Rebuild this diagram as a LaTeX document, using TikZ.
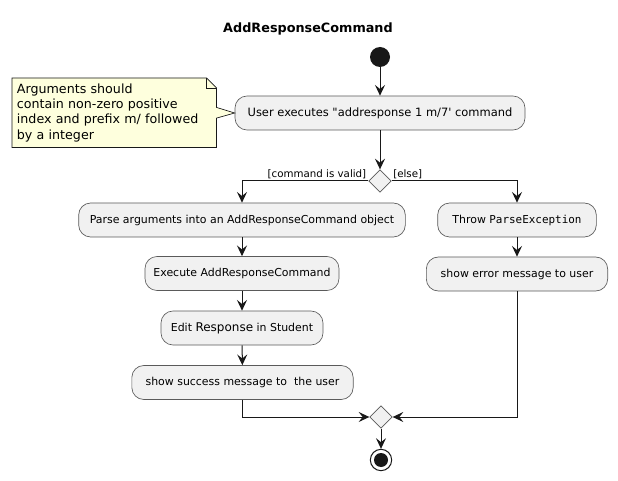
\documentclass[tikz,border=0pt]{standalone}
\usepackage{fontspec}
\setmainfont{DejaVu Sans}
\newfontfamily\monof{DejaVu Sans Mono}
\usetikzlibrary{arrows.meta,shapes.geometric}
\definecolor{actfill}{HTML}{F1F1F1}
\definecolor{notefill}{HTML}{FEFFDD}
\definecolor{lineclr}{HTML}{181818}
\definecolor{borderclr}{HTML}{5A5A5A}
\begin{document}
\begin{tikzpicture}[x=0.75pt,y=-0.75pt,
  act/.style={draw=borderclr, fill=actfill, rounded corners=9pt, line width=0.5pt,
    minimum height=25.5pt, inner xsep=0pt, font=\fontsize{8.2}{10}\selectfont},
  decision/.style={diamond, draw=borderclr, fill=actfill, line width=0.5pt,
    minimum width=17pt, minimum height=17pt, inner sep=0pt},
  startnode/.style={circle, fill=lineclr, minimum size=15pt, inner sep=0pt},
  endnode/.style={circle, draw=lineclr, fill=white, line width=0.75pt, minimum size=16pt, inner sep=0pt},
  enddot/.style={circle, fill=lineclr, minimum size=10.5pt, inner sep=0pt},
  notebox/.style={fill=none, align=left, inner xsep=3.5pt, minimum width=153pt,
    minimum height=51.75pt, text width=146pt, font=\fontsize{9.5}{11.6}\selectfont},
  noteline/.style={draw=lineclr, fill=notefill, line width=0.5pt, line join=miter},
  flow/.style={draw=lineclr, line width=0.75pt, -{Stealth[length=8pt,width=7.5pt,inset=3pt]}},
  guard/.style={font=\fontsize{7.7}{9}\selectfont, inner sep=0pt},
  titlestyle/.style={font=\bfseries\fontsize{9.6}{11}\selectfont, inner sep=0pt}
]
\useasboundingbox (0,0) rectangle (618,481);
\fill[white] (0,0) rectangle (618,481);

\node[titlestyle] (title) at (308,29) {AddResponseCommand};

\node[startnode] (start) at (380,57) {};
\node[act, minimum width=217.5pt, font=\fontsize{8.6}{10}\selectfont] (a1) at (380,113)
  {User executes \textquotedbl addresponse 1 m/7\textquotesingle{} command};

% note outline (drawn from a hidden frame node)
\node[notebox, anchor=north west] (note) at (12,78) {\phantom{x}};
\path[noteline] (note.north west) -- ([xshift=-7.5pt]note.north east)
  -- ([yshift=-7.5pt]note.north east) -- ([yshift=4pt]note.east)
  -- (a1.west) -- ([yshift=-4pt]note.east) -- (note.south east)
  -- (note.south west) -- cycle;
\draw[draw=lineclr, line width=0.5pt] ([xshift=-7.5pt]note.north east)
  -- ([xshift=-7.5pt,yshift=-7.5pt]note.north east) -- ([yshift=-7.5pt]note.north east);
\node[notebox, anchor=north west] (notetxt) at (12,78)
  {Arguments should\\contain non-zero positive\\index and prefix m/ followed\\by a integer};

\node[decision] (d1) at (380,181) {};
\node[guard, anchor=base east] (gvalid) at (366.5,177.5) {[command is valid]};
\node[guard, anchor=base west] (gelse) at (393,177.5) {[else]};

\node[act, minimum width=245pt] (p1) at (242,220)
  {Parse arguments into an AddResponseCommand object};
\node[act, minimum width=145.5pt] (e1) at (242,273.5) {Execute AddResponseCommand};
\node[act, minimum width=121.5pt] (ed) at (242,328)
  {Edit {\fontsize{9}{10}\selectfont Response} in Student};
\node[act, minimum width=166pt] (s1) at (242.5,382.5) {show success message to\ \ the user};

\node[act, minimum width=119pt] (t1) at (517,220) {Throw {\monof ParseException}};
\node[act, minimum width=136pt] (er) at (517,274) {show error message to user};

\node[decision] (d2) at (381,417) {};
\node[endnode] (end) at (381,460) {};
\node[enddot] (enddot) at (end.center) {};

\draw[flow] (start) -- (a1);
\draw[flow] (a1) -- (d1);
\draw[flow] (d1.west) -| (p1.north);
\draw[flow] (d1.east) -| (t1.north);
\draw[flow] (p1) -- (e1);
\draw[flow] (e1) -- (ed);
\draw[flow] (ed) -- (s1);
\draw[flow] (t1) -- (er);
\draw[flow] (s1.south) |- (d2.west);
\draw[flow] (er.south) |- (d2.east);
\draw[flow] (d2) -- (end);
\end{tikzpicture}
\end{document}
